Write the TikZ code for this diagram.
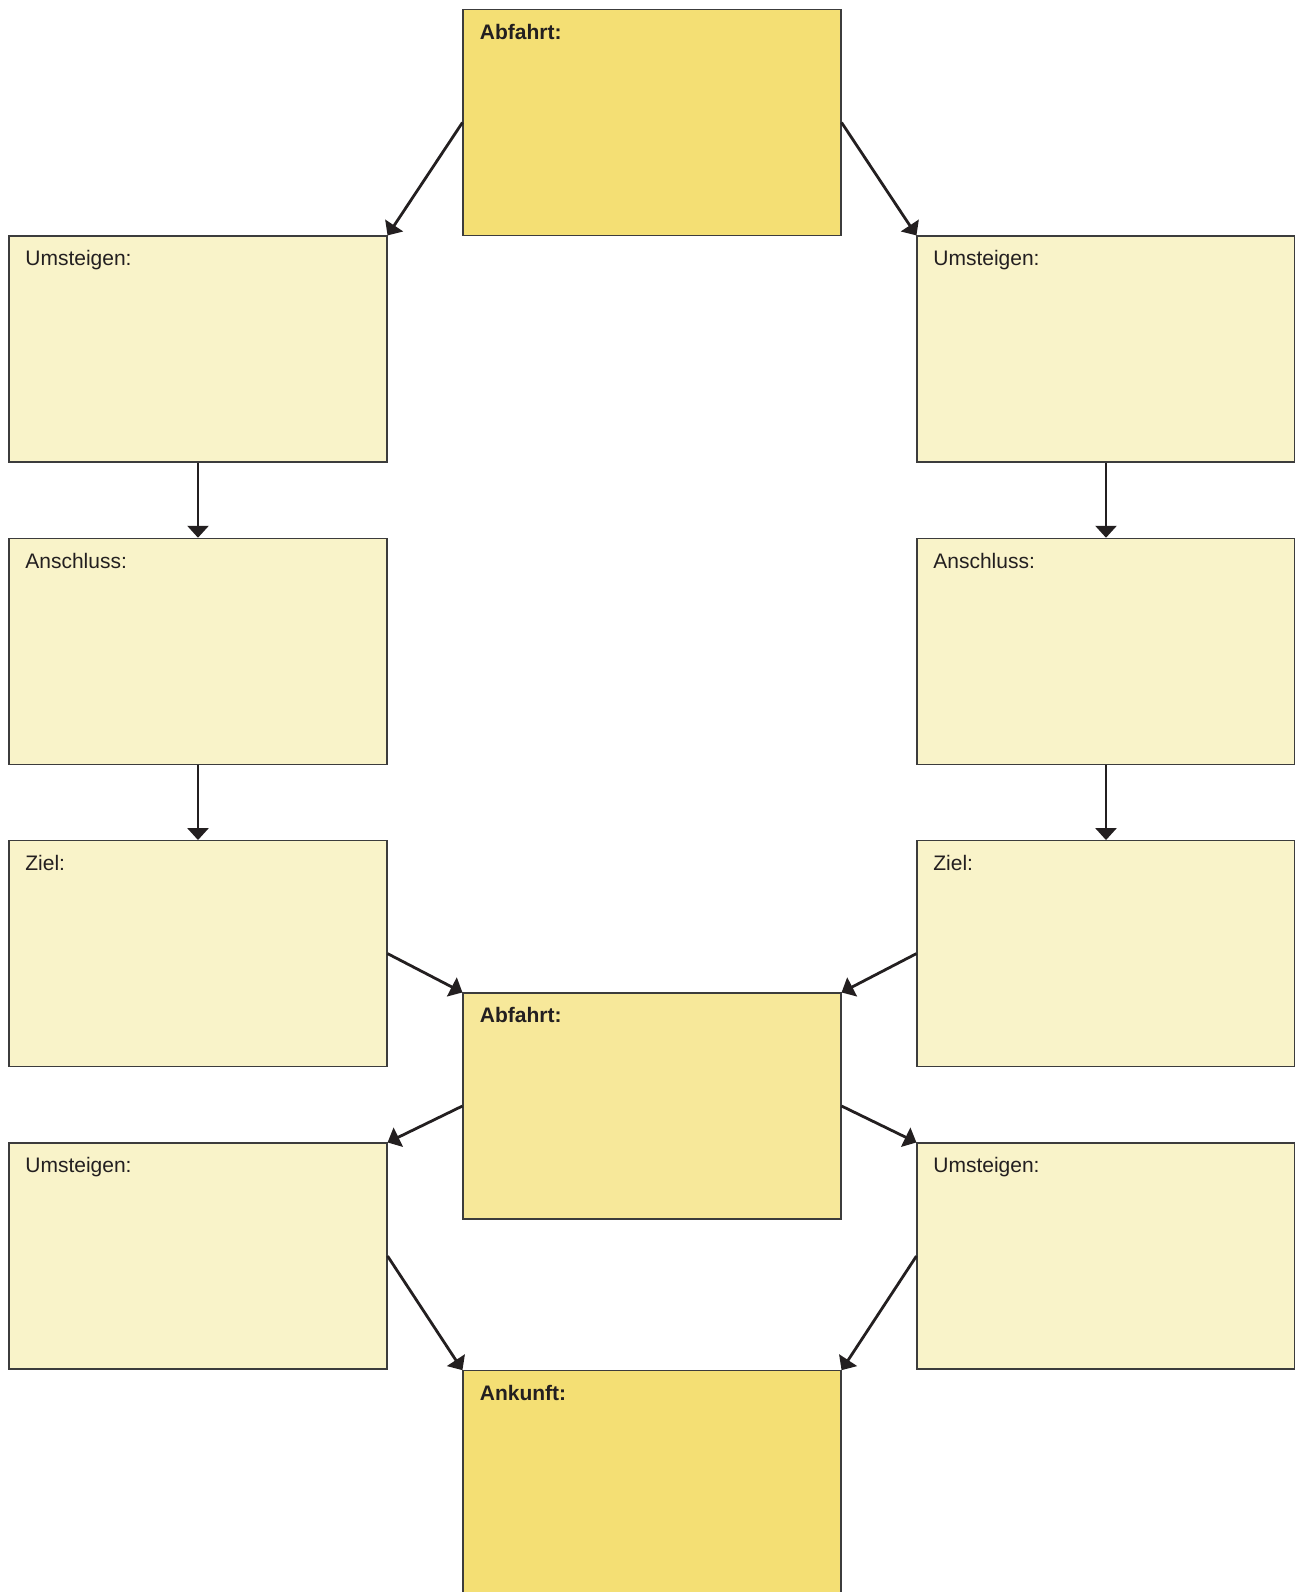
\documentclass[tikz,border=0pt]{standalone}
\usepackage{fontspec}
\setmainfont{Liberation Sans}
\usetikzlibrary{arrows.meta}

\definecolor{gelbdunkel}{HTML}{F4DF74}
\definecolor{gelbmittel}{HTML}{F7E89A}
\definecolor{gelbhell}{HTML}{F9F3C9}
\definecolor{rand}{HTML}{3C3C3C}
\definecolor{schwarz}{HTML}{231F20}

\begin{document}
\begin{tikzpicture}[x=0.5pt,y=-0.5pt,
	feld/.style={draw=rand,line width=0.55pt,minimum width=189pt,minimum height=113pt,inner sep=0pt},
	titel/.style={anchor=base west,inner sep=0pt,text=schwarz,font=\fontsize{10.5pt}{12pt}\selectfont},
	titelfett/.style={titel,font=\fontsize{10.5pt}{12pt}\selectfont\bfseries},
	pfeil/.style={draw=schwarz,line width=1.4pt,-{Triangle[width=10.5pt,length=6pt]}}]

	\useasboundingbox (0,0) rectangle (1295,1592);

	% Abfahrt oben
	\node[feld,fill=gelbdunkel] (abfahrt1) at (652,122.5) {};
	\node[titelfett] (abfahrt1text) at ([shift={(17,30.4)}]abfahrt1.north west) {Abfahrt:};

	% linke Spalte
	\node[feld,fill=gelbhell] (umsteigenL) at (198,349) {};
	\node[titel] (umsteigenLtext) at ([shift={(16.5,30.4)}]umsteigenL.north west) {Umsteigen:};
	\node[feld,fill=gelbhell] (anschlussL) at (198,651.3) {};
	\node[titel] (anschlussLtext) at ([shift={(16.5,30.4)}]anschlussL.north west) {Anschluss:};
	\node[feld,fill=gelbhell] (zielL) at (198,953.6) {};
	\node[titel] (zielLtext) at ([shift={(16.5,30.4)}]zielL.north west) {Ziel:};
	\node[feld,fill=gelbhell] (umsteigen2L) at (198,1256) {};
	\node[titel] (umsteigen2Ltext) at ([shift={(16.5,30.4)}]umsteigen2L.north west) {Umsteigen:};

	% rechte Spalte
	\node[feld,fill=gelbhell] (umsteigenR) at (1106,349) {};
	\node[titel] (umsteigenRtext) at ([shift={(16.5,30.4)}]umsteigenR.north west) {Umsteigen:};
	\node[feld,fill=gelbhell] (anschlussR) at (1106,651.3) {};
	\node[titel] (anschlussRtext) at ([shift={(16.5,30.4)}]anschlussR.north west) {Anschluss:};
	\node[feld,fill=gelbhell] (zielR) at (1106,953.6) {};
	\node[titel] (zielRtext) at ([shift={(16.5,30.4)}]zielR.north west) {Ziel:};
	\node[feld,fill=gelbhell] (umsteigen2R) at (1106,1256) {};
	\node[titel] (umsteigen2Rtext) at ([shift={(16.5,30.4)}]umsteigen2R.north west) {Umsteigen:};

	% Abfahrt Mitte
	\node[feld,fill=gelbmittel] (abfahrt2) at (652,1106) {};
	\node[titelfett] (abfahrt2text) at ([shift={(17,30.4)}]abfahrt2.north west) {Abfahrt:};

	% Ankunft unten
	\node[feld,fill=gelbdunkel] (ankunft) at (652,1483.7) {};
	\node[titelfett] (ankunfttext) at ([shift={(17,30.4)}]ankunft.north west) {Ankunft:};

	% Pfeile
	\draw[pfeil] (abfahrt1.west) -- (umsteigenL.north east);
	\draw[pfeil] (abfahrt1.east) -- (umsteigenR.north west);
	\draw[pfeil] (umsteigenL.south) -- (anschlussL.north);
	\draw[pfeil] (anschlussL.south) -- (zielL.north);
	\draw[pfeil] (umsteigenR.south) -- (anschlussR.north);
	\draw[pfeil] (anschlussR.south) -- (zielR.north);
	\draw[pfeil] (zielL.east) -- (abfahrt2.north west);
	\draw[pfeil] (zielR.west) -- (abfahrt2.north east);
	\draw[pfeil] (abfahrt2.west) -- (umsteigen2L.north east);
	\draw[pfeil] (abfahrt2.east) -- (umsteigen2R.north west);
	\draw[pfeil] (umsteigen2L.east) -- (ankunft.north west);
	\draw[pfeil] (umsteigen2R.west) -- (ankunft.north east);

\end{tikzpicture}
\end{document}
